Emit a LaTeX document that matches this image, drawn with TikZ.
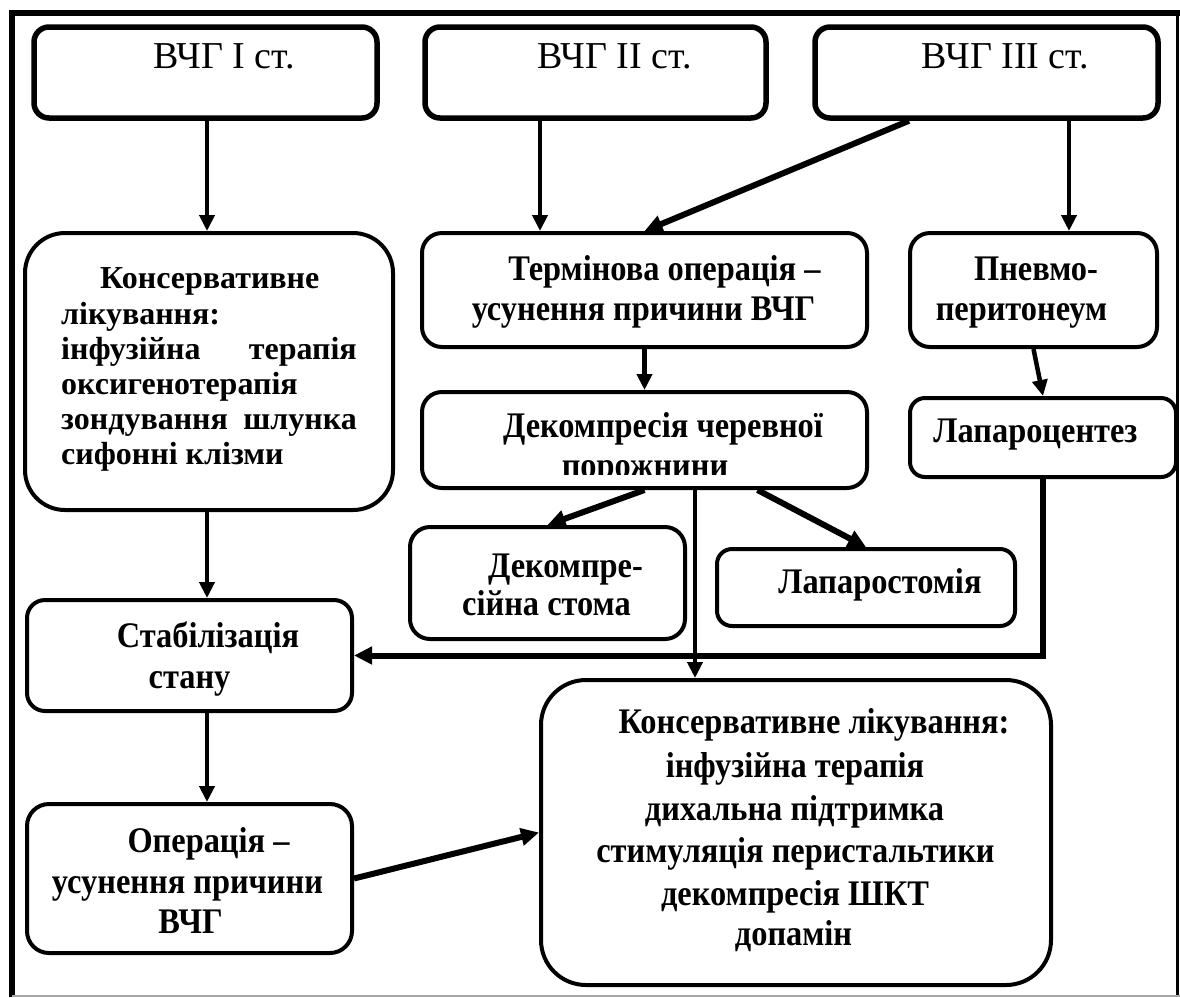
\documentclass[tikz,border=0pt]{standalone}
\usepackage{fontspec}
\setmainfont{Liberation Serif}
\newfontfamily\condfont[FakeStretch=0.9]{Liberation Serif}
\usetikzlibrary{arrows.meta}
\begin{document}
\begin{tikzpicture}[x=1pt,y=-1pt,
  box/.style={draw, line width=4pt, rounded corners=#1, inner sep=0},
  box/.default=18pt,
  topbox/.style={draw, line width=5.5pt, rounded corners=15pt, inner sep=0},
  toptxt/.style={inner sep=0, anchor=base, font=\fontsize{38}{44}\selectfont},
  ctxt/.style={inner sep=0, anchor=base, font=\condfont\bfseries\fontsize{36}{42}\selectfont},
  ltxt/.style={inner sep=0, anchor=base west, font=\bfseries\fontsize{32}{35}\selectfont},
  rtxt/.style={inner sep=0, anchor=base east, font=\bfseries\fontsize{32}{35}\selectfont},
  arr/.style={line width=4.5pt, -{Triangle[length=16pt,width=15pt]}},
  darr/.style={line width=6pt, -{Triangle[length=18pt,width=17pt]}}]
\useasboundingbox (0,0) rectangle (1180,997);
\fill[white] (0,0) rectangle (1180,997);
% frame
\draw[line width=6pt] (12,997) -- (12,13) -- (1180,13);
\draw[line width=3pt] (1177.5,13) -- (1177.5,997);
\draw[line width=2pt, black!35] (12,995.5) -- (1180,995.5);

% top boxes
\node[topbox, minimum width=343pt, minimum height=91pt] (b1) at (205.5,72.5) {};
\node[topbox, minimum width=341pt, minimum height=91pt] (b2) at (595.5,72.5) {};
\node[topbox, minimum width=343pt, minimum height=91pt] (b3) at (986.5,72.5) {};
\node[toptxt] (t1) at (224,68) {ВЧГ I ст.};
\node[toptxt] (t2) at (614.5,68) {ВЧГ II ст.};
\node[toptxt] (t3) at (1005.5,68) {ВЧГ III ст.};

% left conservative box
\node[box=40pt, minimum width=368pt, minimum height=277pt] (cons) at (209,371.5) {};
\node[ltxt] (c1) at (100,288) {Консервативне};
\node[ltxt] (c2) at (61,324) {лікування:};
\node[ltxt] (c3a) at (61,359) {інфузійна};
\node[rtxt] (c3b) at (357,359) {терапія};
\node[ltxt] (c4) at (61,394) {оксигенотерапія};
\node[ltxt] (c5a) at (61,429) {зондування};
\node[rtxt] (c5b) at (357,429) {шлунка};
\node[ltxt] (c6) at (61,464) {сифонні клізми};

% middle / right boxes
\node[box=20pt, minimum width=445pt, minimum height=114pt] (term) at (644.5,290) {};
\node[ctxt] (tm1) at (664.5,280) {Термінова операція –};
\node[ctxt] (tm2) at (643.5,320) {усунення причини ВЧГ};

\node[box=20pt, minimum width=247pt, minimum height=114pt] (pn) at (1033.5,290) {};
\node[ctxt] (pn1) at (1036,280) {Пневмо-};
\node[ctxt] (pn2) at (1021.5,320) {перитонеум};

\node[box=20pt, minimum width=445pt, minimum height=96pt] (dec) at (644.5,440) {};
\node[ctxt] (dc1) at (663,437) {Декомпресія черевної};
\begin{scope}
\clip (422,392) rectangle (867,474);
\node[ctxt] (dc2) at (645,477) {порожнини};
\end{scope}

\node[box=15pt, minimum width=266pt, minimum height=79pt] (lapc) at (1043,437.5) {};
\node[ctxt] (lc1) at (1035.5,442) {Лапароцентез};

\node[box=20pt, minimum width=275pt, minimum height=112pt] (dst) at (547.5,583) {};
\node[ctxt] (ds1) at (565.5,577) {Декомпре-};
\node[ctxt] (ds2) at (546.5,615) {сійна стома};

\node[box=15pt, minimum width=298pt, minimum height=77pt] (lapst) at (866,587.5) {};
\node[ctxt] (ls1) at (880,593) {Лапаростомія};

\node[box=18pt, minimum width=325pt, minimum height=111pt] (stab) at (189.5,655.5) {};
\node[ctxt] (st1) at (208,647) {Стабілізація};
\node[ctxt] (st2) at (189.5,688) {стану};

\node[box=22pt, minimum width=325pt, minimum height=149pt] (op) at (189.5,878.5) {};
\node[ctxt] (op1) at (208.5,852) {Операція –};
\node[ctxt] (op2) at (187.5,893) {усунення причини};
\node[ctxt] (op3) at (190.5,933) {ВЧГ};

\node[box=45pt, minimum width=510pt, minimum height=305pt] (big) at (796,832.5) {};
\node[ctxt] (bg1) at (814,733) {Консервативне лікування:};
\node[ctxt] (bg2) at (795,777) {інфузійна терапія};
\node[ctxt] (bg3) at (794.5,820) {дихальна підтримка};
\node[ctxt] (bg4) at (795.5,862) {стимуляція перистальтики};
\node[ctxt] (bg5) at (795,905) {декомпресія ШКТ};
\node[ctxt] (bg6) at (793.5,945) {допамін};

% connectors
\draw[arr] ([xshift=1.5pt]b1.south) -- ([xshift=1.5pt]b1.south |- cons.north);
\draw[arr] ([xshift=-55.5pt]b2.south) -- ([xshift=-55.5pt]b2.south |- term.north);
\draw[darr] ([xshift=-77.5pt]b3.south) -- (term.north);
\draw[arr] ([xshift=82.5pt]b3.south) -- ([xshift=82.5pt]b3.south |- pn.north);
\draw[arr] (term.south) -- (dec.north);
\draw[arr] (pn.south) -- (lapc.north);
\draw[darr] (dec.south) -- (dst.north);
\draw[darr] ([xshift=113pt]dec.south) -- (lapst.north);
\draw[arr] ([xshift=50.5pt]dec.south) -- ([xshift=50.5pt]dec.south |- big.north);
\draw[darr] (lapc.south) |- (stab.east);
\draw[arr] ([xshift=-2pt]cons.south) -- ([xshift=-2pt]cons.south |- stab.north);
\draw[arr] ([xshift=17.5pt]stab.south) -- ([xshift=17.5pt]stab.south |- op.north);
\draw[darr] (op.east) -- (big.west);
\end{tikzpicture}
\end{document}
